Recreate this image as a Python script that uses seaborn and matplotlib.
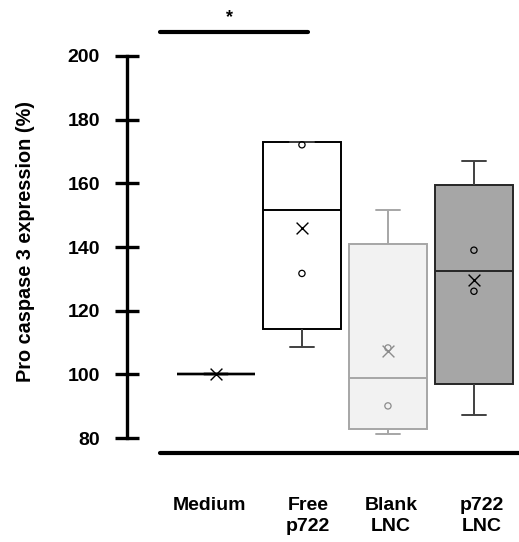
import pandas as pd
import matplotlib.pyplot as plt
import matplotlib.transforms as mtransforms
import seaborn as sns

categories = ['Medium', 'Free p722', 'Blank LNC', 'p722 LNC']
tick_labels = ['Medium', 'Free\np722', 'Blank\nLNC', 'p722\nLNC']

# box summary: whisker ends, quartiles, median, mean
whis_low = [100.0, 108.7, 81.2, 87.2]
q1 = [100.0, 114.1, 83.0, 97.0]
median = [100.0, 151.7, 99.0, 132.6]
q3 = [100.0, 173.1, 141.1, 159.6]
whis_high = [100.0, 173.1, 151.5, 166.9]
means = [100.0, 146.0, 107.3, 129.6]

# inner points shown inside the boxes
point_group = ['Free p722', 'Free p722', 'Blank LNC', 'Blank LNC', 'p722 LNC', 'p722 LNC']
point_value = [172.1, 131.7, 108.3, 90.1, 139.0, 126.1]

fill_colors = ['white', 'white', '#f2f2f2', '#a6a6a6']
edge_colors = ['black', 'black', '#a6a6a6', '#262626']
whisker_colors = ['black', '#404040', '#a6a6a6', '#404040']
marker_colors = ['black', 'black', '#8c8c8c', 'black']

sns.set_style('white')
plt.rcParams['font.family'] = ['Liberation Sans', 'DejaVu Sans']
plt.rcParams['font.weight'] = 'bold'
plt.rcParams['text.color'] = 'black'
plt.rcParams['axes.labelcolor'] = 'black'
plt.rcParams['xtick.color'] = 'black'
plt.rcParams['ytick.color'] = 'black'

fig = plt.figure(figsize=(5.19, 5.42), dpi=100)
ax = fig.add_axes([0.2441, 0.1624, 0.7559, 0.8225])

# one boxplot call per group so each box gets its own line colours
for i, cat in enumerate(categories):
    box_df = pd.DataFrame({
        'group': cat,
        'value': [whis_low[i], q1[i], median[i], q3[i], whis_high[i]],
    })
    sns.boxplot(data=box_df, x='group', y='value', order=categories,
                width=0.915, whis=(0, 100), fliersize=0, saturation=1,
                color=fill_colors[i], linecolor=edge_colors[i],
                linewidth=1.7 if i == 0 else 1.4,
                whiskerprops={'color': whisker_colors[i]},
                capprops={'color': whisker_colors[i]},
                capwidths=0.28, ax=ax)

pts = pd.DataFrame({'group': point_group, 'value': point_value})
mean_df = pd.DataFrame({'group': categories, 'value': means})

for i, cat in enumerate(categories):
    sub = pts[pts['group'] == cat]
    if len(sub):
        n = len(ax.collections)
        sns.stripplot(data=sub, x='group', y='value', order=categories,
                      jitter=False, size=4.5, color=marker_colors[i],
                      linewidth=0.9, ax=ax)
        for coll in ax.collections[n:]:
            coll.set_facecolor('none')
            coll.set_edgecolor(marker_colors[i])
            coll.set_linewidth(0.9)
    n = len(ax.collections)
    sns.stripplot(data=mean_df[mean_df['group'] == cat], x='group', y='value',
                  order=categories, jitter=False, marker='x', size=8.5,
                  color=marker_colors[i], linewidth=1.0, ax=ax)
    for coll in ax.collections[n:]:
        coll.set_edgecolor(marker_colors[i])
        coll.set_linewidth(1.0)

ax.set_xlim(-1.038, 3.524)
ax.set_ylim(75, 215)

for side in ['top', 'right', 'bottom']:
    ax.spines[side].set_visible(False)
ax.spines['left'].set_linewidth(2.4)
ax.spines['left'].set_color('black')
ax.spines['left'].set_bounds(80, 200)

ax.set_yticks([80, 100, 120, 140, 160, 180, 200])
ax.tick_params(axis='y', left=True, direction='inout', length=17, width=2.4,
               labelsize=14, pad=10.8, colors='black')
ax.set_xticks(range(len(categories)))
ax.set_xticklabels(tick_labels, fontsize=14, fontweight='bold', linespacing=1.3)
ax.tick_params(axis='x', bottom=False, length=0, pad=31)
ax.set_xlabel('')

# the category labels sit a little off the box centres in the original
label_shift_px = [-6, 6, 3, 8]
for lab, dx in zip(ax.get_xticklabels(), label_shift_px):
    lab.set_transform(lab.get_transform() +
                      mtransforms.ScaledTranslation(dx / 100, 0, fig.dpi_scale_trans))

ax.set_ylabel('Pro caspase 3 expression (%)', fontsize=14.3, fontweight='bold')
ax.yaxis.label.set_va('center')
ax.yaxis.set_label_coords(-0.259, 0.4756)

# baseline under the boxes
ax.axhline(75.2, xmin=0.085, xmax=1.0, color='black', lw=3, clip_on=False)

# significance bar between Medium and Free p722
ax.axhline(207.6, xmin=0.085, xmax=0.462, color='black', lw=3, clip_on=False)
ax.text(0.261, 212.0, '*', transform=ax.get_yaxis_transform(),
        ha='center', va='center', fontsize=13, fontweight='bold')

fig.savefig('out.png', dpi=100)
